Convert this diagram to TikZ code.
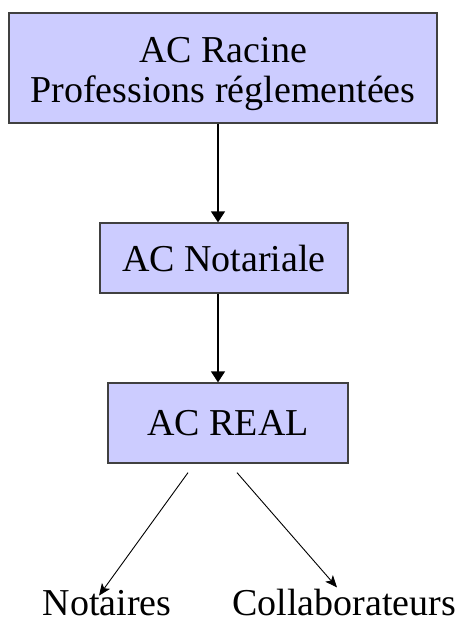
\documentclass[tikz,border=0pt]{standalone}
\usepackage{fontspec}
\setmainfont{Liberation Serif}
\usetikzlibrary{arrows.meta}
\definecolor{boxfill}{HTML}{CCCCFF}
\definecolor{boxline}{HTML}{404040}
\tikzset{
  box/.style={draw=boxline, fill=boxfill, line width=1.3pt, inner sep=0pt, align=center,
    font=\fontsize{38}{40}\selectfont},
  lbl/.style={inner sep=0pt, anchor=base, font=\fontsize{38}{40}\selectfont},
  vconn/.style={line width=1.3pt, -{Triangle[width=14pt,length=11pt]}},
  dconn/.style={line width=0.9pt, -{Stealth[width=10pt,length=12pt,inset=3pt]}}
}
\begin{document}
\begin{tikzpicture}[x=1pt,y=1pt]
\useasboundingbox (0,0) rectangle (465,-625);
\node[box, minimum width=428pt, minimum height=110pt] (racine) at (223,-68)
  {\rule{0pt}{38pt}AC Racine\\Professions réglementées};
\node[box, minimum width=248pt, minimum height=70pt] (notar) at (224,-258) {AC Notariale};
\node[box, minimum width=240pt, minimum height=80pt] (real) at (228,-423) {AC REAL};
\node[lbl] (notaires) at (107,-615) {Notaires};
\node[lbl] (collab) at (344,-615) {Collaborateurs};
\draw[vconn] ([xshift=-5pt]racine.south) -- ([xshift=-6pt]notar.north);
\draw[vconn] ([xshift=-6pt]notar.south) -- ([xshift=-10pt]real.north);
\draw[dconn] ([xshift=-40pt,yshift=-9pt]real.south) -- ([xshift=-8pt,yshift=-6pt]notaires.north);
\draw[dconn] ([xshift=9pt,yshift=-9pt]real.south) -- ([xshift=-7pt,yshift=1pt]collab.north);
\end{tikzpicture}
\end{document}
